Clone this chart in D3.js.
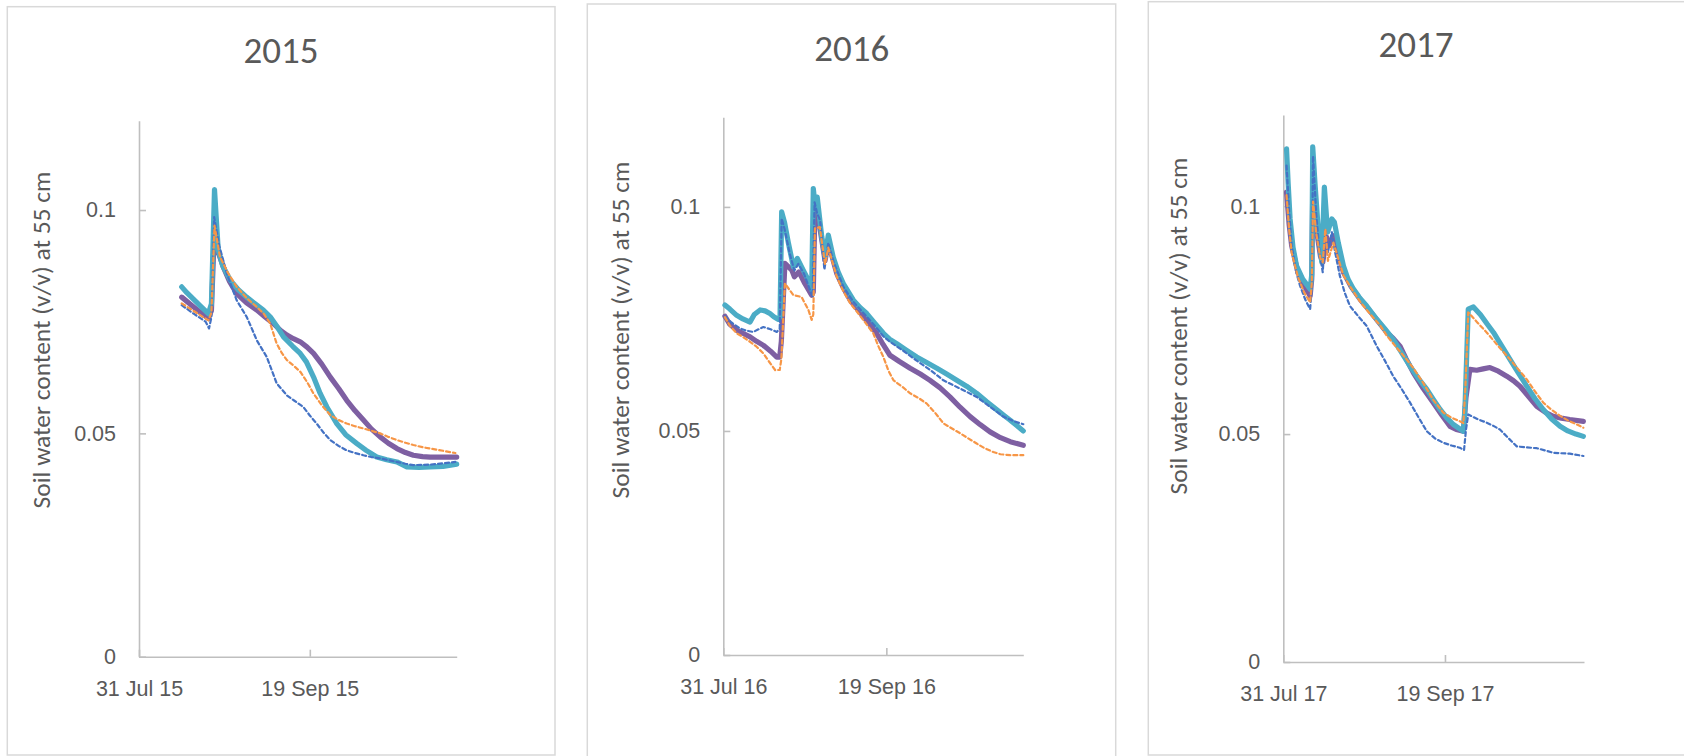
<!DOCTYPE html>
<html>
<head>
<meta charset="utf-8">
<script src="https://cdn.jsdelivr.net/npm/d3@7"></script>
<style>
  html, body { margin: 0; padding: 0; background: #ffffff; }
  svg { display: block; font-family: Calibri, Carlito, Lato, "Open Sans", sans-serif; }
  .axis path, .axis line { stroke: #bfbfbf; stroke-width: 1.6px; }
  .axis text { fill: #595959; font-size: 21.5px; }
</style>
</head>
<body>
<svg id="chart" width="1684" height="756"></svg>
<script>
// ---------------- DATA (day offset from 31 Jul, soil water content v/v) ----------------
const years = ["2015", "2016", "2017"];
const startDates = ["2015-07-31", "2016-07-31", "2017-07-31"];
const endDates = ["2015-11-01", "2016-10-31", "2017-11-01"];
const xTickOffsets = [0, 50];
const yTicks = [0, 0.05, 0.1];
const yMax = 0.12;
const yAxisTitle = "Soil water content (v/v) at 55 cm";
const seriesNames = ["blue", "orange", "purple", "teal"];

const blue2015 = [[12.5,0.0787],[16,0.0768],[19.5,0.0750],[20.5,0.0735],[21.2,0.0760],[22,0.0984],[23.5,0.0920],[25.7,0.0858],[28.6,0.0798],[31.5,0.0761],[33,0.0735],[34.5,0.0708],[37.4,0.0671],[40.3,0.0612],[43.3,0.0585],[45.5,0.0573],[48.1,0.0559],[50,0.0540],[52,0.0522],[54,0.0502],[56,0.0485],[58.4,0.0472],[60.8,0.0462],[63.2,0.0456],[65.7,0.0451],[68,0.0447],[70.6,0.0444],[73,0.0440],[75.5,0.0436],[78,0.0432],[80.3,0.0429],[85.2,0.0430],[89,0.0433],[92.6,0.0436]];
const orange2015 = [[12.5,0.0791],[16,0.0774],[20.3,0.0753],[21.2,0.0770],[22.1,0.0965],[23.7,0.0895],[26,0.0860],[28.6,0.0828],[31.5,0.0803],[34.5,0.0783],[36.5,0.0768],[38.4,0.0746],[40.3,0.0701],[41.8,0.0680],[43.3,0.0664],[45.2,0.0652],[47.2,0.0638],[49.2,0.0615],[51.1,0.0589],[53.5,0.0563],[56,0.0541],[58.4,0.0530],[60.8,0.0522],[63.2,0.0516],[65.7,0.0511],[68,0.0506],[70.6,0.0500],[73,0.0492],[75.5,0.0485],[78,0.0479],[80.3,0.0474],[83,0.0469],[85.2,0.0466],[89,0.0461],[92.6,0.0456]];
const purple2015 = [[12.5,0.0805],[16,0.0783],[20.3,0.0757],[21.2,0.0775],[22.1,0.0960],[23.2,0.0905],[24.7,0.0872],[26.5,0.0840],[28.6,0.0813],[31.5,0.0792],[34.5,0.0776],[37,0.0760],[39.3,0.0746],[41.5,0.0730],[43.3,0.0720],[45.2,0.0712],[47.2,0.0705],[49.2,0.0693],[51.1,0.0679],[53.5,0.0655],[56,0.0626],[58.5,0.0600],[60.8,0.0574],[63.2,0.0551],[65.7,0.0530],[68,0.0510],[70.6,0.0492],[73,0.0478],[75.5,0.0466],[78,0.0457],[80.3,0.0451],[83,0.0448],[85.2,0.0447],[93,0.0447]];
const teal2015 = [[12.5,0.0828],[14,0.0815],[16,0.0800],[18,0.0785],[20.3,0.0768],[21.2,0.0790],[22.1,0.1046],[23.2,0.0910],[24.5,0.0875],[26.7,0.0843],[29,0.0822],[31.5,0.0805],[34,0.0790],[36.4,0.0776],[38.4,0.0761],[40.5,0.0738],[42.3,0.0716],[45,0.0695],[47.2,0.0679],[49,0.0660],[51.1,0.0626],[53,0.0590],[55,0.0559],[57.9,0.0522],[60.5,0.0497],[63.8,0.0477],[66.5,0.0462],[69.6,0.0447],[72.5,0.0441],[75.5,0.0436],[78.4,0.0425],[82,0.0424],[85.2,0.0425],[89,0.0426],[93,0.0431]];

const blue2016 = [[0.5,0.0756],[2.5,0.0742],[5.1,0.0729],[7,0.0724],[9.2,0.0721],[10.8,0.0727],[12.3,0.0732],[14.5,0.0727],[16.4,0.0721],[17.3,0.0728],[17.9,0.0974],[18.8,0.0950],[20.4,0.0895],[21.8,0.0858],[23,0.0873],[24.8,0.0850],[26.9,0.0808],[27.4,0.0800],[28,0.1010],[28.8,0.0985],[29.7,0.0970],[31,0.0860],[32.2,0.0920],[33.8,0.0878],[36.8,0.0822],[40,0.0787],[44,0.0755],[47,0.0730],[49.1,0.0711],[51.1,0.0699],[55,0.0680],[59.3,0.0657],[63.5,0.0636],[67.5,0.0613],[72.5,0.0595],[77.7,0.0576],[82,0.0553],[85.9,0.0532],[89,0.0522],[92,0.0515]];
const orange2016 = [[0.5,0.0754],[2,0.0735],[4.1,0.0718],[6,0.0710],[8.2,0.0699],[10.2,0.0688],[12.3,0.0673],[14,0.0655],[15.9,0.0636],[17.3,0.0636],[17.8,0.0660],[18.9,0.0829],[21.5,0.0803],[24,0.0799],[26.1,0.0770],[27.1,0.0748],[27.6,0.0760],[28.1,0.0952],[29.6,0.0955],[31.2,0.0872],[32.2,0.0909],[34.8,0.0844],[36.8,0.0812],[38.9,0.0785],[41,0.0766],[43,0.0747],[46,0.0718],[47.5,0.0690],[49.1,0.0665],[50.6,0.0635],[52.2,0.0613],[55,0.0598],[57.3,0.0584],[60,0.0573],[62.4,0.0561],[65,0.0540],[67.5,0.0517],[70,0.0506],[72.6,0.0495],[75,0.0484],[77.7,0.0472],[80,0.0462],[82.8,0.0453],[85,0.0448],[88,0.0446],[92,0.0446]];
const purple2016 = [[0.5,0.0756],[2,0.0738],[4.1,0.0725],[6,0.0718],[8.2,0.0710],[10.2,0.0700],[12.3,0.0691],[14.5,0.0678],[16.4,0.0665],[17.3,0.0665],[17.8,0.0700],[18.9,0.0874],[21,0.0859],[21.8,0.0844],[23.2,0.0855],[25,0.0829],[27.1,0.0803],[27.6,0.0810],[28.1,0.1000],[29.6,0.0954],[31.2,0.0880],[32.2,0.0920],[34.8,0.0851],[36.8,0.0820],[38.9,0.0792],[41,0.0773],[43,0.0755],[45,0.0737],[47,0.0718],[49,0.0693],[51.1,0.0669],[54,0.0655],[57.3,0.0640],[60.4,0.0627],[63.4,0.0613],[66.5,0.0596],[69.5,0.0576],[72.6,0.0553],[75.7,0.0532],[78.8,0.0514],[81.8,0.0498],[85,0.0485],[88,0.0476],[92,0.0468]];
const teal2016 = [[0.5,0.0781],[2,0.0772],[4.1,0.0758],[6,0.0750],[8.2,0.0743],[9.5,0.0760],[11.3,0.0770],[12.8,0.0768],[14.3,0.0762],[15.5,0.0755],[16.9,0.0749],[17.4,0.0755],[17.9,0.0989],[18.8,0.0965],[20,0.0918],[21.5,0.0866],[22.7,0.0885],[24.5,0.0859],[26.6,0.0829],[27.1,0.0815],[27.6,0.1041],[28.2,0.1000],[28.8,0.1022],[30.2,0.0933],[31.2,0.0888],[32.2,0.0937],[33.7,0.0888],[35.2,0.0855],[36.8,0.0829],[39.9,0.0792],[42,0.0775],[44,0.0762],[46.5,0.0740],[49.1,0.0718],[51,0.0705],[53.2,0.0695],[56,0.0681],[59.3,0.0665],[62.5,0.0652],[65.5,0.0640],[68.5,0.0627],[71.6,0.0613],[74.6,0.0600],[77.7,0.0584],[80.8,0.0565],[83.9,0.0547],[86,0.0535],[88,0.0524],[90,0.0512],[92,0.0500]];

const blue2017 = [[1,0.1089],[1.8,0.0990],[2.6,0.0913],[4,0.0855],[5.2,0.0825],[6.8,0.0795],[8.3,0.0774],[8.8,0.0820],[9.2,0.1110],[10.2,0.0980],[11.2,0.0900],[12.2,0.0855],[13,0.0950],[13.8,0.0899],[15,0.0943],[16,0.0900],[17.5,0.0847],[19,0.0810],[20.6,0.0781],[23,0.0760],[25.8,0.0737],[28.9,0.0693],[31.5,0.0660],[34,0.0627],[36.5,0.0600],[39.2,0.0569],[41.8,0.0537],[44.4,0.0506],[47,0.0490],[49.5,0.0481],[52,0.0475],[54.6,0.0470],[55.9,0.0465],[56.5,0.0510],[57.2,0.0543],[60,0.0533],[62.9,0.0525],[65,0.0518],[67,0.0510],[69.5,0.0492],[72.2,0.0473],[75,0.0471],[78.4,0.0469],[81,0.0464],[83.5,0.0459],[86,0.0458],[88.6,0.0457],[92.8,0.0452]];
const orange2017 = [[1,0.1024],[1.8,0.0950],[2.6,0.0898],[4.5,0.0845],[6.5,0.0810],[8.3,0.0789],[8.8,0.0830],[9.2,0.1010],[10.2,0.0940],[11.5,0.0885],[12.2,0.0877],[13,0.0950],[13.8,0.0880],[15.5,0.0920],[17,0.0885],[18.6,0.0848],[21,0.0820],[23.8,0.0790],[27,0.0762],[30,0.0738],[32,0.0716],[35,0.0690],[38,0.0665],[40.2,0.0645],[43.3,0.0612],[46.4,0.0575],[49.5,0.0547],[52,0.0536],[54.6,0.0528],[55.7,0.0524],[56.3,0.0600],[57.2,0.0767],[60,0.0745],[62.9,0.0723],[66.5,0.0693],[70.1,0.0664],[72.7,0.0642],[75.3,0.0620],[77.8,0.0594],[80.4,0.0569],[83,0.0553],[85.6,0.0540],[88,0.0530],[90.5,0.0522],[92.8,0.0514]];
const purple2017 = [[1,0.1031],[1.8,0.0960],[2.6,0.0913],[4.5,0.0855],[6.5,0.0825],[8.3,0.0803],[8.8,0.0840],[9.1,0.1030],[10,0.0960],[11.5,0.0890],[12.2,0.0877],[13.4,0.0932],[14.2,0.0913],[15.5,0.0935],[17,0.0895],[18.6,0.0855],[21,0.0823],[23.8,0.0795],[27,0.0768],[30,0.0741],[32,0.0723],[34,0.0710],[36.1,0.0693],[38,0.0665],[40.2,0.0635],[43.3,0.0600],[46.4,0.0569],[49,0.0542],[51.6,0.0517],[53.5,0.0510],[55.7,0.0506],[56.5,0.0580],[57.7,0.0642],[59.8,0.0640],[61.8,0.0643],[63.9,0.0646],[66.5,0.0638],[69.1,0.0627],[71.2,0.0617],[73.2,0.0605],[75.8,0.0583],[78.4,0.0561],[81,0.0548],[83.5,0.0539],[86,0.0535],[88.6,0.0532],[92.8,0.0528]];
const teal2017 = [[1,0.1126],[1.5,0.1050],[2.1,0.0972],[3,0.0910],[4.1,0.0869],[6,0.0840],[8.3,0.0818],[8.8,0.0850],[9.1,0.1130],[9.8,0.1050],[10.8,0.0950],[11.9,0.0877],[12.7,0.1042],[13.7,0.0943],[15,0.0972],[15.8,0.0965],[17,0.0920],[18.6,0.0869],[20,0.0840],[21.7,0.0818],[23.5,0.0800],[25.8,0.0781],[28.9,0.0752],[31.5,0.0730],[34,0.0708],[36.5,0.0680],[39.2,0.0649],[41.8,0.0622],[44.4,0.0598],[46.5,0.0575],[48.5,0.0554],[50.5,0.0536],[52.6,0.0521],[55.7,0.0506],[56.2,0.0560],[57.2,0.0774],[58.8,0.0779],[61,0.0762],[63,0.0742],[65,0.0723],[67.5,0.0694],[70.1,0.0664],[72.7,0.0634],[75.3,0.0605],[77.8,0.0578],[80.4,0.0554],[83,0.0533],[85.6,0.0517],[88,0.0507],[90.5,0.0500],[92.8,0.0495]];

const seriesByYear = [
  { blue: blue2015, orange: orange2015, purple: purple2015, teal: teal2015 },
  { blue: blue2016, orange: orange2016, purple: purple2016, teal: teal2016 },
  { blue: blue2017, orange: orange2017, purple: purple2017, teal: teal2017 }
];

// ---------------- LAYOUT / STYLE ----------------
const layout = [
  { box: [7.3, 6.7, 547.7, 748.3], x0: 139, x1: 456.7, yTop: 120.7, yBot: 656.7, titleX: 281, titleY: 63.3, labX: 41, labY: 340 },
  { box: [587.3, 4, 528.4, 800], x0: 723.3, x1: 1023.3, yTop: 117.3, yBot: 655, titleX: 851.7, titleY: 60.7, labX: 620, labY: 330 },
  { box: [1148.3, 1.7, 540, 753.3], x0: 1283.3, x1: 1584, yTop: 115, yBot: 662, titleX: 1416, titleY: 56.7, labX: 1178, labY: 326 }
];
const styles = {
  purple: { color: "#7e5fa2", width: 5.2, dash: null },
  teal:   { color: "#4bacc6", width: 5.2, dash: null },
  blue:   { color: "#4472c4", width: 2.2, dash: "4,3" },
  orange: { color: "#f79646", width: 2.2, dash: "4,3" }
};
const drawOrder = ["purple", "teal", "blue", "orange"];

const svg = d3.select("#chart");
svg.append("rect").attr("width", 1684).attr("height", 756).attr("fill", "#ffffff");

const parse = d3.utcParse("%Y-%m-%d");
const fmt = d3.utcFormat("%d %b %y");
const dayMs = 86400000;

years.forEach((yr, i) => {
  const L = layout[i];
  const g = svg.append("g");
  g.append("rect")
    .attr("x", L.box[0]).attr("y", L.box[1])
    .attr("width", L.box[2]).attr("height", L.box[3])
    .attr("fill", "none").attr("stroke", "#d9d9d9").attr("stroke-width", 1.5);

  const t0 = parse(startDates[i]);
  const t1 = parse(endDates[i]);
  const x = d3.scaleUtc().domain([t0, t1]).range([L.x0, L.x1]);
  const y = d3.scaleLinear().domain([0, yMax]).range([L.yBot, L.yTop]);
  const toDate = d => new Date(t0.getTime() + d * dayMs);

  // axes
  g.append("g").attr("class", "axis")
    .attr("transform", `translate(${L.x0},0)`)
    .call(d3.axisLeft(y).tickValues(yTicks).tickSizeInner(-7).tickSizeOuter(0).tickPadding(23)
      .tickFormat(d => String(d)));
  g.append("g").attr("class", "axis")
    .attr("transform", `translate(0,${L.yBot})`)
    .call(d3.axisBottom(x).tickValues(xTickOffsets.map(toDate)).tickSizeInner(-7).tickSizeOuter(0).tickPadding(24)
      .tickFormat(fmt));

  // lines
  const line = d3.line().x(d => x(toDate(d[0]))).y(d => y(d[1]));
  drawOrder.forEach(name => {
    const st = styles[name];
    const p = g.append("path")
      .datum(seriesByYear[i][name])
      .attr("d", line)
      .attr("fill", "none")
      .attr("stroke", st.color)
      .attr("stroke-width", st.width)
      .attr("stroke-linejoin", "round")
      .attr("stroke-linecap", "round");
    if (st.dash) p.attr("stroke-dasharray", st.dash);
  });

  // title
  g.append("text")
    .attr("x", L.titleX).attr("y", L.titleY)
    .attr("text-anchor", "middle")
    .attr("fill", "#595959")
    .style("font-size", "37px")
    .text(yr);

  // y-axis title
  g.append("text")
    .attr("transform", `translate(${L.labX},${L.labY}) rotate(-90)`)
    .attr("text-anchor", "middle")
    .attr("dy", "0.35em")
    .attr("fill", "#595959")
    .style("font-size", "25.5px")
    .text(yAxisTitle);
});
</script>
</body>
</html>
